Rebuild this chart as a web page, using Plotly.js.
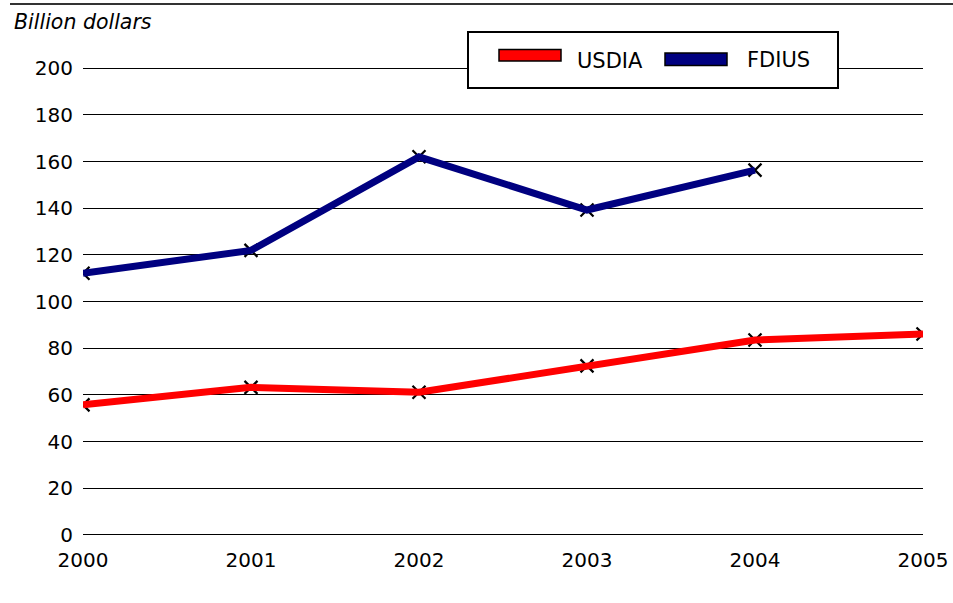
<!DOCTYPE html>
<html>
<head>
<meta charset="utf-8">
<script src="https://cdn.plot.ly/plotly-3.0.1.min.js"></script>
<style>html,body{margin:0;padding:0;background:#fff;}#chart{width:953px;height:603px;}</style>
</head>
<body>
<div id="chart"></div>
<script>
// Data
var years = [2000, 2001, 2002, 2003, 2004, 2005];
var usdia = [55.7, 63.2, 61.1, 72.4, 83.5, 86.1];
var fdius = [112.1, 121.9, 162.0, 139.2, 156.3, null];
var seriesNames = ["USDIA", "FDIUS"];
var seriesColors = ["#FF0000", "#000080"];
var yTicks = [0, 20, 40, 60, 80, 100, 120, 140, 160, 180, 200];
var yTitle = "Billion dollars";

var W = 953, H = 603;
var M = {l: 83, r: 30, t: 67, b: 67};
var Y0 = -0.5, Y1 = 200.5;
var pw = W - M.l - M.r, ph = H - M.t - M.b;
var scaleY = ph / (Y1 - Y0);
var yZeroPx = H - M.b - (0 - Y0) * scaleY;
function px(x) { return (x - M.l) / pw; }
function py(y) { return (H - M.b - y) / ph; }

var FONT = "DejaVu Sans, Arial, sans-serif";
var series = [usdia, fdius];
var traces = [];
// markers first (drawn under lines)
series.forEach(function (s, i) {
  traces.push({
    x: years, y: s, type: "scatter", mode: "markers", showlegend: false,
    hoverinfo: "skip", cliponaxis: true,
    marker: {symbol: "x-thin", size: 13, color: "#000", line: {color: "#000", width: 2.2}}
  });
});
series.forEach(function (s, i) {
  traces.push({
    x: years, y: s, type: "scatter", mode: "lines", name: seriesNames[i],
    showlegend: false, connectgaps: false,
    line: {color: seriesColors[i], width: 7}
  });
});

// legend drawn manually
var shapes = [
  {type: "line", xref: "paper", yref: "paper", x0: px(10), x1: px(953), y0: py(4), y1: py(4),
   line: {color: "#333", width: 2}},
  {type: "rect", xref: "paper", yref: "paper", x0: px(468), x1: px(838), y0: py(88), y1: py(32),
   fillcolor: "#fff", line: {color: "#000", width: 2}, layer: "above"},
  {type: "rect", xref: "paper", yref: "paper", x0: px(499), x1: px(561), y0: py(61), y1: py(49.5),
   fillcolor: seriesColors[0], line: {color: "#000", width: 1.5}, layer: "above"},
  {type: "rect", xref: "paper", yref: "paper", x0: px(665), x1: px(727), y0: py(65.5), y1: py(53),
   fillcolor: seriesColors[1], line: {color: "#000", width: 1.5}, layer: "above"}
];
var annotations = [
  {xref: "paper", yref: "paper", x: px(12), y: py(22), xanchor: "left", yanchor: "middle",
   text: "<i>" + yTitle + "</i>", showarrow: false, font: {family: FONT, size: 20.5, color: "#000"}},
  {xref: "paper", yref: "paper", x: px(575), y: py(61), xanchor: "left", yanchor: "middle",
   text: seriesNames[0], showarrow: false, font: {family: FONT, size: 21, color: "#000"}},
  {xref: "paper", yref: "paper", x: px(745), y: py(60), xanchor: "left", yanchor: "middle",
   text: seriesNames[1], showarrow: false, font: {family: FONT, size: 21, color: "#000"}}
];

var layout = {
  width: W, height: H,
  margin: M,
  paper_bgcolor: "#fff", plot_bgcolor: "#fff",
  showlegend: false,
  font: {family: FONT, size: 20, color: "#000"},
  xaxis: {
    range: [2000, 2005], tickvals: years, ticktext: years.map(String),
    showgrid: false, zeroline: false, showline: false, ticks: "",
    ticklabelstandoff: 10, fixedrange: true
  },
  yaxis: {
    range: [Y0, Y1], tickvals: yTicks, showgrid: true, gridcolor: "#000", gridwidth: 1,
    zeroline: false, showline: false, ticks: "", ticklabelstandoff: 9, fixedrange: true
  },
  shapes: shapes,
  annotations: annotations
};

Plotly.newPlot("chart", traces, layout, {staticPlot: true, displayModeBar: false});
</script>
</body>
</html>
